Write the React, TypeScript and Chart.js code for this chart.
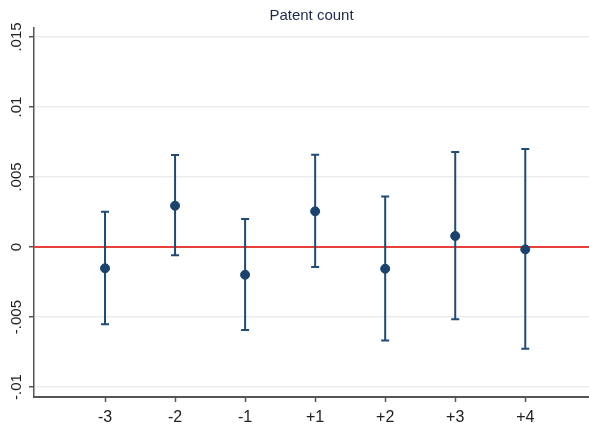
import React, { useEffect, useRef } from "react";
import { Chart, registerables } from "chart.js";

Chart.register(...registerables);

const categories = ["-3", "-2", "-1", "+1", "+2", "+3", "+4"];
const estimates = [-0.00152, 0.00295, -0.00198, 0.00255, -0.00155, 0.00079, -0.00017];
const upperCI = [0.00252, 0.00657, 0.002, 0.00659, 0.0036, 0.00679, 0.007];
const lowerCI = [-0.00552, -0.00059, -0.00593, -0.00143, -0.00667, -0.00516, -0.00726];
const yTickValues = [-0.01, -0.005, 0, 0.005, 0.01, 0.015];
const yTickLabels = ["-.01", "-.005", "0", ".005", ".01", ".015"];
const titleText = "Patent count";

const FONT = "'Liberation Sans', Arial, sans-serif";
const BAR_COLOR = "#1f4b75";
const POINT_COLOR = "#1a436e";

const overlayPlugin = {
  id: "overlay",
  beforeDatasetsDraw(chart: any) {
    const { ctx, chartArea, scales } = chart;
    const x = scales.x;
    const y = scales.y;
    ctx.save();
    const y0 = y.getPixelForValue(0);
    ctx.strokeStyle = "#e8413c";
    ctx.lineWidth = 2;
    ctx.beginPath();
    ctx.moveTo(chartArea.left, y0);
    ctx.lineTo(chartArea.right, y0);
    ctx.stroke();
    ctx.strokeStyle = BAR_COLOR;
    ctx.lineWidth = 2;
    categories.forEach((_, i) => {
      const px = x.getPixelForValue(i);
      const pu = y.getPixelForValue(upperCI[i]);
      const pl = y.getPixelForValue(lowerCI[i]);
      ctx.beginPath();
      ctx.moveTo(px, pu);
      ctx.lineTo(px, pl);
      ctx.moveTo(px - 4, pu);
      ctx.lineTo(px + 4, pu);
      ctx.moveTo(px - 4, pl);
      ctx.lineTo(px + 4, pl);
      ctx.stroke();
    });
    ctx.restore();
  },
  afterDraw(chart: any) {
    const { ctx, scales } = chart;
    const y = scales.y;
    ctx.save();
    ctx.fillStyle = "#222";
    ctx.font = `15px ${FONT}`;
    ctx.textAlign = "center";
    ctx.textBaseline = "middle";
    yTickValues.forEach((v, i) => {
      const py = y.getPixelForValue(v);
      ctx.save();
      ctx.translate(17, py);
      ctx.rotate(-Math.PI / 2);
      ctx.fillText(yTickLabels[i], 0, 0);
      ctx.restore();
    });
    ctx.restore();
  },
};

export default function App() {
  const ref = useRef<HTMLCanvasElement | null>(null);
  useEffect(() => {
    if (!ref.current) return;
    const chart = new Chart(ref.current, {
      type: "scatter",
      data: {
        datasets: [
          {
            data: estimates.map((v, i) => ({ x: i, y: v })),
            backgroundColor: POINT_COLOR,
            borderColor: POINT_COLOR,
            pointRadius: 4.5,
            pointHoverRadius: 4.5,
          },
        ],
      },
      options: {
        animation: false,
        responsive: false,
        devicePixelRatio: 1,
        layout: { autoPadding: false, padding: 0 },
        plugins: {
          legend: { display: false },
          tooltip: { enabled: false },
          title: {
            display: true,
            fullSize: false,
            text: titleText,
            color: "#1c2b4d",
            font: { family: FONT, size: 15, weight: "normal" },
            padding: { top: 7, bottom: 3 },
          },
        },
        scales: {
          x: {
            type: "linear",
            min: -1.014,
            max: 6.91,
            afterBuildTicks: (s: any) => {
              s.ticks = categories.map((_, i) => ({ value: i }));
            },
            afterFit: (s: any) => {
              s.height = 33;
              s.paddingLeft = 0;
              s.paddingRight = 0;
            },
            ticks: {
              color: "#222",
              font: { family: FONT, size: 16 },
              padding: 6,
              maxRotation: 0,
              callback: (v: any) => categories[v as number] ?? "",
            },
            grid: {
              drawOnChartArea: false,
              drawTicks: true,
              tickLength: 5,
              tickColor: "#555",
              tickWidth: 1.5,
            },
            border: { color: "#555", width: 2 },
          },
          y: {
            type: "linear",
            min: -0.01071,
            max: 0.01564,
            afterBuildTicks: (s: any) => {
              s.ticks = yTickValues.map((v) => ({ value: v }));
            },
            afterFit: (s: any) => {
              s.width = 34;
              s.paddingTop = 0;
              s.paddingBottom = 0;
            },
            ticks: { display: false },
            grid: {
              color: "#ececec",
              lineWidth: 1.5,
              drawTicks: true,
              tickLength: 5,
              tickColor: "#555",
              tickWidth: 1.5,
            },
            border: { color: "#555", width: 1.5 },
          },
        },
      },
      plugins: [overlayPlugin],
    });
    return () => chart.destroy();
  }, []);
  return (
    <div style={{ position: "fixed", left: 0, top: 0, width: 589, height: 430, background: "#fff" }}>
      <canvas ref={ref} width={589} height={430} style={{ display: "block", width: 589, height: 430 }} />
    </div>
  );
}
